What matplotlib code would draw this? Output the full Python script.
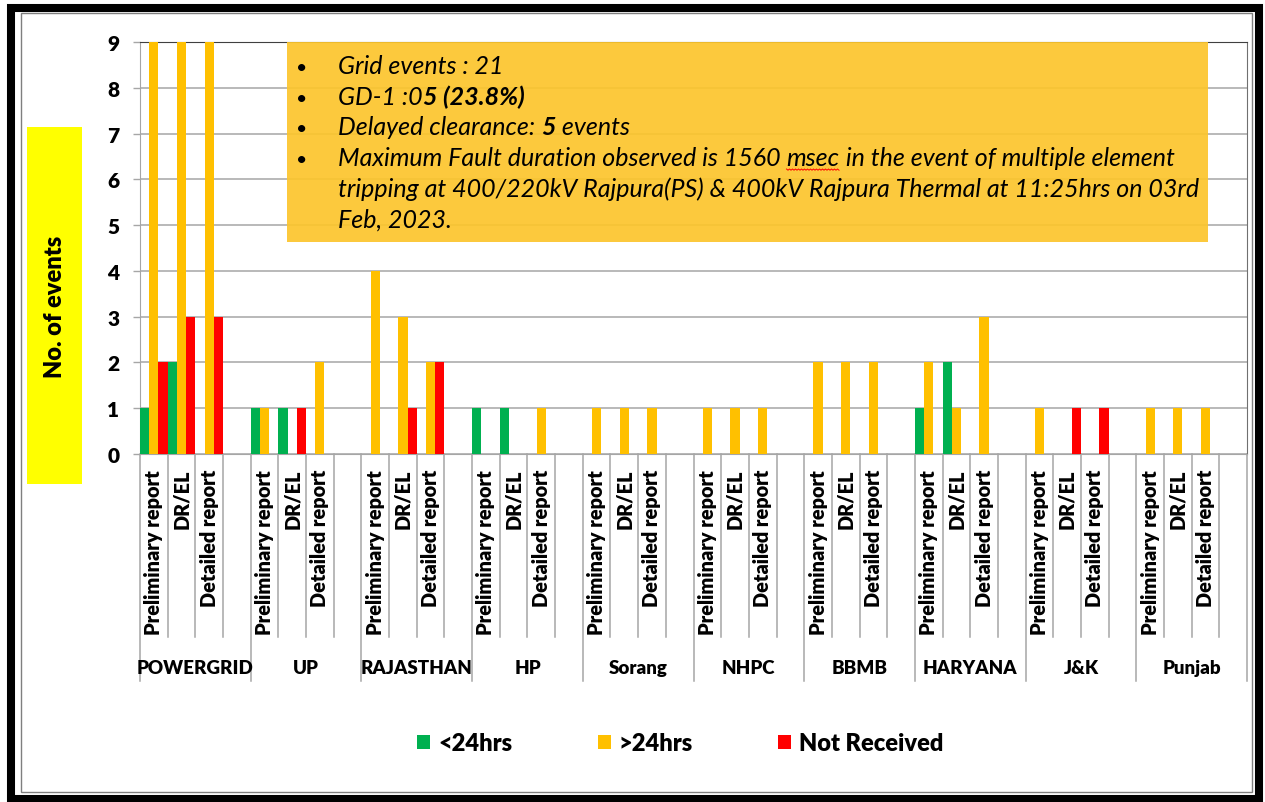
import matplotlib
matplotlib.use("Agg")
import numpy as np
import matplotlib.pyplot as plt
from matplotlib.patches import Rectangle
from matplotlib.lines import Line2D
from matplotlib.transforms import blended_transform_factory

plt.rcParams['font.family'] = ['Lato', 'DejaVu Sans']

# ---------------- data ----------------
groups = ['POWERGRID', 'UP', 'RAJASTHAN', 'HP', 'Sorang', 'NHPC',
          'BBMB', 'HARYANA', 'J&K', 'Punjab']
report_types = ['Preliminary report', 'DR/EL', 'Detailed report']
series_names = ['<24hrs', '>24hrs', 'Not Received']
series_colors = ['#00b050', '#ffc000', '#ff0000']

# one value per (utility, report type), in the order of report_types
within_24h = [1, 2, 0,  1, 1, 0,  0, 0, 0,  1, 1, 0,  0, 0, 0,
              0, 0, 0,  0, 0, 0,  1, 2, 0,  0, 0, 0,  0, 0, 0]
beyond_24h = [9, 9, 9,  1, 0, 2,  4, 3, 2,  0, 0, 1,  1, 1, 1,
              1, 1, 1,  2, 2, 2,  2, 1, 3,  1, 0, 0,  1, 1, 1]
not_received = [2, 3, 3,  0, 1, 0,  0, 1, 2,  0, 0, 0,  0, 0, 0,
                0, 0, 0,  0, 0, 0,  0, 0, 0,  0, 1, 1,  0, 0, 0]
y_ticks = [0, 1, 2, 3, 4, 5, 6, 7, 8, 9]

summary_lines = [
    [('Grid events : 21', 'normal')],
    [('GD-1 :0', 'normal'), ('5 (23.8%)', 'bold')],
    [('Delayed clearance: ', 'normal'), ('5', 'bold'), (' events', 'normal')],
    [('Maximum Fault duration observed is 1560 ', 'normal'), ('msec', 'normal'),
     (' in the event of multiple element', 'normal')],
    [('tripping at 400/220kV Rajpura(PS) & 400kV Rajpura Thermal at 11:25hrs on 03rd',
      'normal')],
    [('Feb, 2023.', 'normal')],
]
bulleted = [True, True, True, True, False, False]
spell_flagged = 'msec'

LABEL_WEIGHT = 'heavy'

# ---------------- figure ----------------
W, H = 1265, 803
fig = plt.figure(figsize=(W / 100, H / 100), dpi=100)
fig.patch.set_facecolor('white')

ax_left, ax_right, ax_top, ax_bottom = 140, 1247, 43, 455
ax = fig.add_axes([ax_left / W, 1 - ax_bottom / H,
                   (ax_right - ax_left) / W, (ax_bottom - ax_top) / H])

slots_per_group = len(report_types) + 1      # three report slots + spacer slot
n_slots = len(groups) * slots_per_group
slot_pos = np.array([g * slots_per_group + r
                     for g in range(len(groups)) for r in range(len(report_types))])

series = [within_24h, beyond_24h, not_received]
bar_w = 1 / 3
for k, (vals, col, name) in enumerate(zip(series, series_colors, series_names)):
    ax.bar(slot_pos + (k + 0.5) * bar_w, vals, width=bar_w, color=col,
           linewidth=0, label=name, zorder=3)

ax.set_xlim(0, n_slots)
ax.set_ylim(0, 9)
ax.set_yticks(y_ticks)
ax.set_xticks([])
ax.grid(axis='y', color='#a6a6a6', linewidth=1.1, zorder=0)
ax.set_axisbelow(True)
ax.spines['left'].set_color('#a6a6a6')
ax.spines['bottom'].set_color('#a6a6a6')
ax.spines['top'].set_color('#404040')
ax.spines['right'].set_color('#707070')
ax.tick_params(axis='y', length=5, width=1, color='#a6a6a6', pad=10,
               labelsize=15)
for lbl in ax.get_yticklabels():
    lbl.set_fontweight(LABEL_WEIGHT)

# multi-level category axis
trans = blended_transform_factory(ax.transData, ax.transAxes)
sub_depth, group_depth = -0.444, -0.551
for b in range(n_slots + 1):
    depth = group_depth if b % slots_per_group == 0 else sub_depth
    ax.add_line(Line2D([b, b], [0, depth], transform=trans, color='#a6a6a6',
                       linewidth=1.1, clip_on=False))
for g, name in enumerate(groups):
    for r, rt in enumerate(report_types):
        ax.text(g * slots_per_group + r + 0.5, -0.036, rt, transform=trans,
                rotation=90, ha='center', va='top', fontweight=LABEL_WEIGHT,
                fontsize=14.3)
    ax.text(g * slots_per_group + 2, -0.517, name, transform=trans,
            ha='center', va='center', fontweight=LABEL_WEIGHT, fontsize=13.5)

# y-axis title on a yellow strip
fig.add_artist(Rectangle((27 / W, 1 - 485 / H), 55 / W, 357 / H,
                         transform=fig.transFigure, facecolor='#ffff00',
                         edgecolor='none'))
fig.text(55 / W, 1 - 307 / H, 'No. of events', rotation=90, ha='center',
         va='center', fontweight=LABEL_WEIGHT, fontsize=17)

# summary box
box_x0, box_x1, box_y0, box_y1 = 287, 1208, 43, 243
ax.add_patch(Rectangle(((box_x0 - ax_left) / (ax_right - ax_left),
                        (ax_bottom - box_y1) / (ax_bottom - ax_top)),
                       (box_x1 - box_x0) / (ax_right - ax_left),
                       (box_y1 - box_y0) / (ax_bottom - ax_top),
                       transform=ax.transAxes, facecolor='#fcc52c', alpha=0.92,
                       edgecolor='none', zorder=4))

renderer = fig.canvas.get_renderer()
box_fs = 18


def measure(s, weight):
    t = fig.text(0, 0, s, fontsize=box_fs, style='italic', fontweight=weight)
    w = t.get_window_extent(renderer).width
    t.remove()
    return w


def run_width(s, weight):
    return measure('|' + s + '|', weight) - measure('||', weight)


text_x0, bullet_x = 338, 302
baselines = [74, 105, 135, 166, 197, 228]
for runs, has_bullet, base in zip(summary_lines, bulleted, baselines):
    if has_bullet:
        fig.text(bullet_x / W, 1 - base / H, '\u2022', ha='center', va='baseline',
                 fontsize=14, zorder=6)
    x = text_x0
    for s, weight in runs:
        fig.text(x / W, 1 - base / H, s, ha='left', va='baseline',
                 style='italic', fontweight=weight, fontsize=box_fs, zorder=6)
        w = run_width(s, weight)
        if s == spell_flagged:
            xs = np.arange(x, x + w + 0.1, 1.5)
            ys = base + 4 + np.where(np.arange(len(xs)) % 2 == 0, 0, 1.2)
            fig.add_artist(Line2D(xs / W, 1 - ys / H, color='#ff0000',
                                  linewidth=0.7, transform=fig.transFigure))
        x += w

# legend
handles, labels = ax.get_legend_handles_labels()
fig.legend(handles, labels, loc='center', bbox_to_anchor=(0.538, 0.073),
           ncol=3, frameon=False, prop={'weight': LABEL_WEIGHT, 'size': 17},
           handlelength=0.55, handleheight=0.55, handletextpad=0.35,
           columnspacing=3.6)

# outer frame
fig.add_artist(Rectangle((21 / W, 1 - 793 / H), (1252 - 21) / W, (793 - 14) / H,
                         transform=fig.transFigure, fill=False,
                         edgecolor='#7f7f7f', linewidth=1.0))
fig.add_artist(Rectangle((11 / W, 1 - 800 / H), (1258.5 - 11) / W, (800 - 8.5) / H,
                         transform=fig.transFigure, fill=False,
                         edgecolor='black', linewidth=5.8))

fig.savefig('out.png', dpi=100)
